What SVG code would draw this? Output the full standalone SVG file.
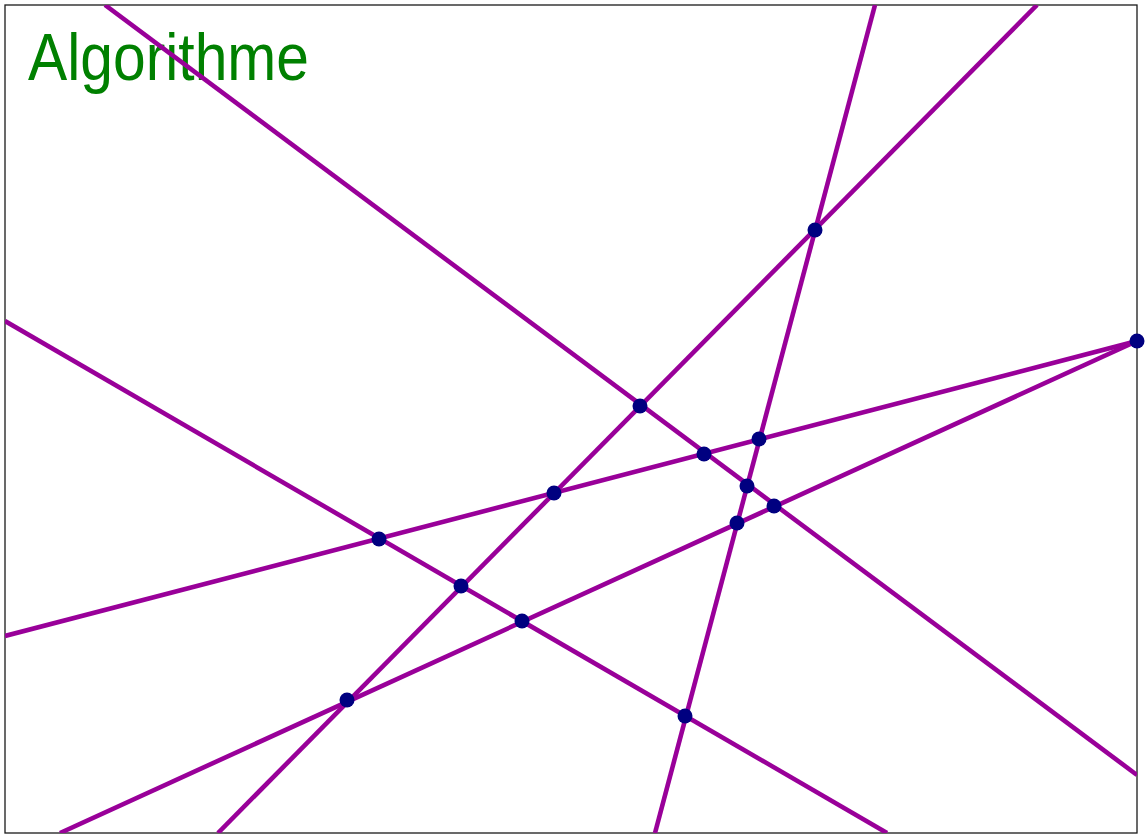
<svg xmlns="http://www.w3.org/2000/svg" width="1148" height="839" viewBox="0 0 1148 839">
<style>
.ln{stroke:#990099;stroke-width:4.6;fill:none}
.pt{fill:#000080}
.ttl{font-family:"Liberation Sans",Arial,sans-serif;fill:#008000;font-size:66px}
</style>
<defs><clipPath id="cp"><rect x="5" y="5" width="1132" height="828"/></clipPath></defs>
<rect x="0" y="0" width="1148" height="839" fill="#ffffff"/>
<rect x="5" y="5" width="1132" height="828" fill="none" stroke="#1a1a1a" stroke-width="1.3"/>
<text class="ttl" x="28" y="80" textLength="281" lengthAdjust="spacingAndGlyphs">Algorithme</text>
<g id="lines" clip-path="url(#cp)">
<line class="ln" x1="105" y1="5" x2="1137" y2="775"/>
<line class="ln" x1="5" y1="321" x2="887" y2="833"/>
<line class="ln" x1="5" y1="636" x2="1137" y2="341"/>
<line class="ln" x1="60" y1="833" x2="1137" y2="341"/>
<line class="ln" x1="218" y1="833" x2="1037" y2="5"/>
<line class="ln" x1="655" y1="833" x2="875" y2="5"/>
</g>
<g id="points">
<circle class="pt" cx="815" cy="230" r="7.5"/>
<circle class="pt" cx="1137" cy="341" r="7.5"/>
<circle class="pt" cx="640" cy="406" r="7.5"/>
<circle class="pt" cx="759" cy="439" r="7.5"/>
<circle class="pt" cx="704" cy="454" r="7.5"/>
<circle class="pt" cx="747" cy="486" r="7.5"/>
<circle class="pt" cx="554" cy="493" r="7.5"/>
<circle class="pt" cx="774" cy="506" r="7.5"/>
<circle class="pt" cx="737" cy="523" r="7.5"/>
<circle class="pt" cx="379" cy="539" r="7.5"/>
<circle class="pt" cx="461" cy="586" r="7.5"/>
<circle class="pt" cx="522" cy="621" r="7.5"/>
<circle class="pt" cx="347" cy="700" r="7.5"/>
<circle class="pt" cx="685" cy="716" r="7.5"/>
</g>
</svg>
